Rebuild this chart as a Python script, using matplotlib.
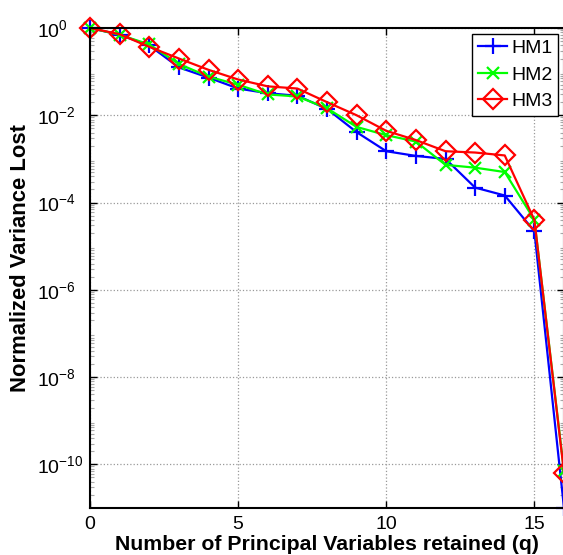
import numpy as np
import matplotlib
matplotlib.use("Agg")
import matplotlib.pyplot as plt
from matplotlib.ticker import LogLocator, FixedLocator

plt.rcParams['font.family'] = ['Liberation Sans', 'DejaVu Sans']
plt.rcParams['mathtext.fontset'] = 'custom'
plt.rcParams['mathtext.rm'] = 'Liberation Sans'
plt.rcParams['mathtext.default'] = 'regular'

# data
q = list(range(17))
hm1 = [1.0, 0.7, 0.4, 0.125, 0.073, 0.041, 0.032, 0.028, 0.014, 0.0041,
       0.0015, 0.00117, 0.001, 2.2e-4, 1.45e-4, 2.2e-5, 1e-11]
hm2 = [1.0, 0.7, 0.42, 0.15, 0.077, 0.05, 0.03, 0.027, 0.0145, 0.0054,
       0.0035, 0.0025, 7.3e-4, 6.3e-4, 5e-4, 4e-5, 7e-11]
hm3 = [1.0, 0.72, 0.37, 0.2, 0.11, 0.066, 0.046, 0.041, 0.02, 0.01,
       0.0044, 0.0027, 0.0015, 0.0014, 0.0012, 4e-5, 6.5e-11]
labels = ['HM1', 'HM2', 'HM3']

fig = plt.figure(figsize=(5.63, 5.55), dpi=100)
ax = fig.add_axes([90 / 563, 47 / 555, 474 / 563, 480 / 555])

ax.plot(q, hm1, color='#0000ff', lw=1.6, marker='+', ms=12, mew=1.6,
        label=labels[0], clip_on=False)
ax.plot(q, hm2, color='#00ff00', lw=1.6, marker='x', ms=9, mew=1.6,
        label=labels[1], clip_on=False)
ax.plot(q, hm3, color='#ff0000', lw=1.6, marker='D', ms=10, mew=1.6,
        mfc='none', label=labels[2], clip_on=False)

ax.set_yscale('log')
ax.set_xlim(0, 16)
ax.set_ylim(1e-11, 1)
ax.set_xticks([0, 5, 10, 15])
ax.yaxis.set_major_locator(FixedLocator([1e0, 1e-2, 1e-4, 1e-6, 1e-8, 1e-10]))
ax.yaxis.set_minor_locator(LogLocator(base=10, subs=np.arange(2, 10), numticks=30))

ax.tick_params(which='major', direction='in', length=5, width=1, top=True, right=True,
               labelsize=14)
ax.tick_params(axis='x', pad=6)
ax.tick_params(axis='y', pad=38)
for lab in ax.get_yticklabels():
    lab.set_horizontalalignment('left')
ax.tick_params(which='minor', direction='in', length=3, width=0.8, color='#aaaaaa',
               top=True, right=True)
ax.grid(True, which='major', linestyle=':', color='#999999', linewidth=0.9)
for s in ax.spines.values():
    s.set_linewidth(1.5)

ax.set_xlabel('Number of Principal Variables retained (q)', fontsize=15.3,
              fontweight='bold', labelpad=1.2)
ax.set_ylabel('Normalized Variance Lost', fontsize=15.8, fontweight='bold')
ax.yaxis.set_label_coords(-0.124, 0.52)

leg = ax.legend(loc='upper right', fontsize=14, fancybox=False, edgecolor='black',
                framealpha=1, handlelength=1.5, handletextpad=0.2, borderpad=0.3,
                labelspacing=0.45, borderaxespad=0.3)
leg.get_frame().set_linewidth(1.0)

fig.savefig('out.png', dpi=100)
